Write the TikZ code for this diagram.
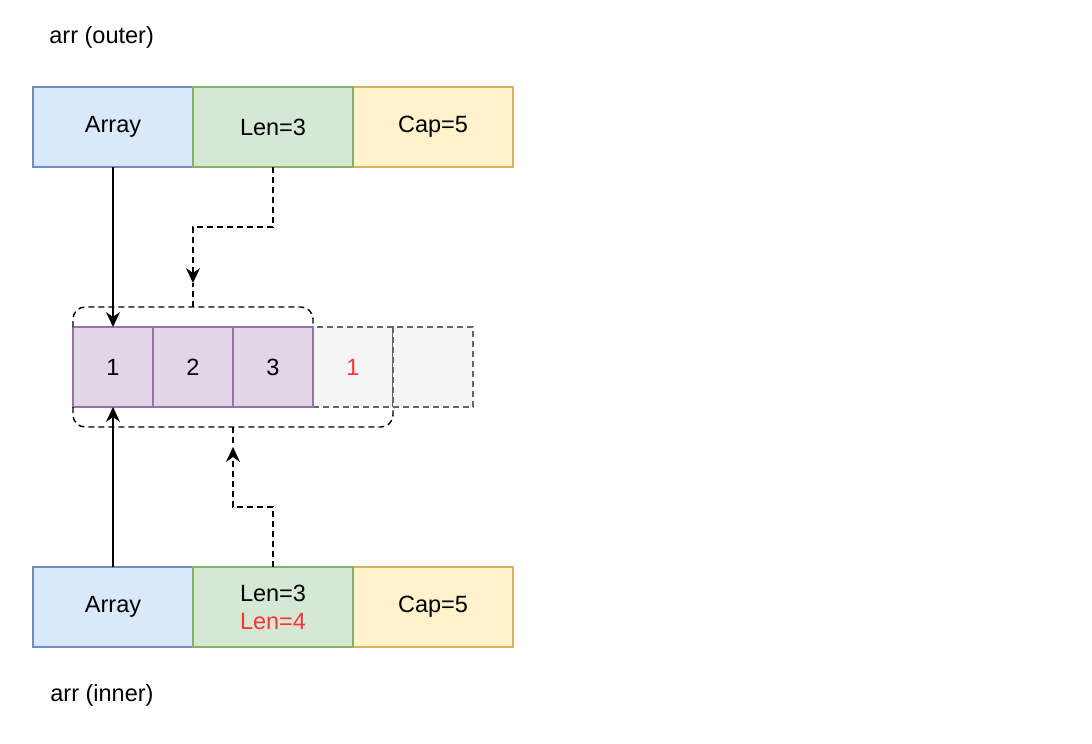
\documentclass[tikz,border=0pt]{standalone}
\usepackage{fontspec}
\setmainfont{Liberation Sans}
\usetikzlibrary{arrows.meta}
\definecolor{blueF}{HTML}{DAE8FC}
\definecolor{blueD}{HTML}{6C8EBF}
\definecolor{greenF}{HTML}{D5E8D4}
\definecolor{greenD}{HTML}{82B366}
\definecolor{yellowF}{HTML}{FFF2CC}
\definecolor{yellowD}{HTML}{D6B656}
\definecolor{purpleF}{HTML}{E1D5E7}
\definecolor{purpleD}{HTML}{9673A6}
\definecolor{greyF}{HTML}{F5F5F5}
\definecolor{greyD}{HTML}{666666}
\definecolor{lenRed}{HTML}{FF3333}
\begin{document}
\begin{tikzpicture}[x=0.5pt, y=-0.5pt, font=\fontsize{11.75}{14}\selectfont]
  \tikzstyle{field}=[draw, line width=0.7pt, minimum width=80pt, minimum height=40pt, inner sep=0pt, outer sep=0pt]
  \tikzstyle{cell}=[field, minimum width=40pt]
  \tikzstyle{ghost}=[dash pattern=on 3pt off 2pt]
  \tikzstyle{link}=[line width=0.7pt, -{Stealth[length=7.5pt, width=7pt, inset=2.5pt]}]

  \useasboundingbox (0,0) rectangle (1092,744);

  \node[anchor=west, inner sep=0pt] (outerlbl) at (49,37) {arr (outer)};
  \node[anchor=west, inner sep=0pt] (innerlbl) at (50,695) {arr (inner)};

  % slice headers
  \foreach \row/\y in {O/127, I/607}
  {
    \path (113,\y) node[field, fill=blueF, draw=blueD] (arr\row) {Array};
    \path (433,\y) node[field, fill=yellowF, draw=yellowD] (cap\row) {Cap=5};
  }
  \path (273,127) node[field, fill=greenF, draw=greenD] (lenO) {Len=3};
  \path (273,607) node[field, fill=greenF, draw=greenD, align=center] (lenI)
    {Len=3\\\textcolor{lenRed}{Len=4}};

  % backing array
  \path (353,367) node[cell, ghost, fill=greyF, draw=greyD, text=lenRed] (c4) {1};
  \path (433,367) node[cell, ghost, fill=greyF, draw=greyD] (c5) {};
  \foreach \i in {1, 2, 3}
  {
    \path (\i*80+33, 367) node[cell, fill=purpleF, draw=purpleD] (c\i) {\i};
  }

  % braces
  \draw[ghost, line width=0.7pt, rounded corners=6pt]
    (c1.north west) -- (73,307) -- (313,307) -- (c3.north east);
  \draw[ghost, line width=0.7pt] (193,307) -- (193,283) coordinate (toptip);
  \draw[ghost, line width=0.7pt, rounded corners=6pt]
    (c1.south west) -- (73,427) -- (393,427) -- (c4.south east);
  \draw[ghost, line width=0.7pt] (233,427) -- (233,447) coordinate (bottip);

  \draw[link] (arrO.south) -- (c1.north);
  \draw[link, ghost] (lenO.south) -- ++(0,60) -| (toptip);
  \draw[link] (arrI.north) -- (c1.south);
  \draw[link, ghost] (lenI.north) -- ++(0,-60) -| (bottip);
\end{tikzpicture}
\end{document}
